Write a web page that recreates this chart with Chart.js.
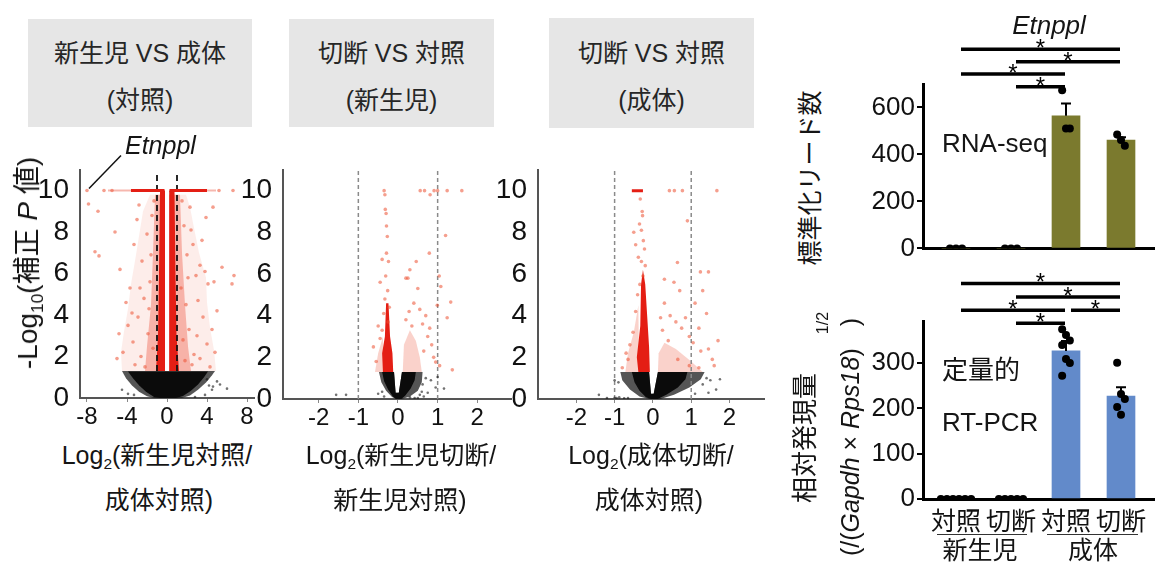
<!DOCTYPE html>
<html>
<head>
<meta charset="utf-8">
<script src="https://cdn.jsdelivr.net/npm/chart.js@4.4.0/dist/chart.umd.min.js"></script>
<style>
body{margin:0;width:1158px;height:564px;position:relative;background:#fff;overflow:hidden;
  font-family:'Liberation Sans','Noto Sans CJK JP',sans-serif;color:#151515}
canvas{position:absolute}
.box{position:absolute;background:#e6e6e6;color:#262626;font-size:25px;text-align:center}
.box div{position:absolute;left:0;right:0;line-height:30px}
.c{position:absolute;transform:translate(-50%,-50%);white-space:nowrap;line-height:1}
.l{position:absolute;transform:translateY(-50%);white-space:nowrap;line-height:1}
.r{position:absolute;transform:translate(-50%,-50%) rotate(-90deg);white-space:nowrap;line-height:1}
.sub{font-size:0.62em;position:relative;top:0.35em}
.rule{position:absolute;height:0;border-top:1.5px solid #333}
</style>
</head>
<body>

<div class="box" style="left:28px;top:19px;width:224px;height:108px"><div style="top:19px">新生児 VS 成体</div><div style="top:66px">(対照)</div></div>
<div class="box" style="left:289px;top:19px;width:205px;height:108px"><div style="top:19px">切断 VS 対照</div><div style="top:66px">(新生児)</div></div>
<div class="box" style="left:549px;top:18px;width:205px;height:110px"><div style="top:20px">切断 VS 対照</div><div style="top:67px">(成体)</div></div>

<canvas id="va" width="228" height="288" style="left:30px;top:150px"></canvas>
<canvas id="vb" width="282" height="289" style="left:233px;top:150px"></canvas>
<canvas id="vc" width="280" height="289" style="left:488px;top:150px"></canvas>
<canvas id="seq" width="318" height="266" style="left:840px;top:0px"></canvas>
<canvas id="pcr" width="318" height="277" style="left:840px;top:262px"></canvas>

<div class="l" style="left:125px;top:145px;font-size:25px;font-style:italic">Etnppl</div>
<div class="r" style="left:28px;top:263px;font-size:28px">-Log<span class="sub">10</span>(補正 <i>P</i> 値)</div>

<div class="c" style="left:157px;top:455px;font-size:25px">Log<span class="sub">2</span>(新生児対照/</div>
<div class="c" style="left:159px;top:500px;font-size:25px">成体対照)</div>
<div class="c" style="left:401px;top:455px;font-size:25px">Log<span class="sub">2</span>(新生児切断/</div>
<div class="c" style="left:400px;top:500px;font-size:25px">新生児対照)</div>
<div class="c" style="left:651px;top:455px;font-size:25px">Log<span class="sub">2</span>(成体切断/</div>
<div class="c" style="left:649px;top:500px;font-size:25px">成体対照)</div>

<div class="c" style="left:1049px;top:25px;font-size:26px;font-style:italic">Etnppl</div>
<div class="r" style="left:810px;top:178px;font-size:25px">標準化リード数</div>
<div class="l" style="left:942px;top:143px;font-size:26px">RNA-seq</div>

<div class="r" style="left:805px;top:438px;font-size:26px">相対発現量</div>
<div class="r" style="left:850px;top:437px;font-size:25px">(/(<i>Gapdh</i> × <i>Rps18</i>)<span style="margin-left:22px">)</span></div>
<div class="r" style="left:823px;top:323px;font-size:16px">1/2</div>
<div class="l" style="left:942px;top:370px;font-size:26px">定量的</div>
<div class="l" style="left:942px;top:422px;font-size:26px">RT-PCR</div>

<div class="rule" style="left:937px;top:534px;width:90px"></div>
<div class="rule" style="left:1047px;top:534px;width:91px"></div>
<div class="c" style="left:980px;top:550px;font-size:25px">新生児</div>
<div class="c" style="left:1093px;top:550px;font-size:25px">成体</div>

<script>
// ---- volcano 1: 新生児 vs 成体 (対照) ----
var aRedDots = [[-8,10],[-7.85,9.35],[-6.9,9.0],[-7.2,7.05],[-6.8,6.85],[-6.3,10],[-5.5,10],[-5.2,8.0],[-4.7,6.2],
  [-5.0,1.9],[-4.4,2.2],[-4.8,3.1],[-3.9,3.5],[-3.7,5.3],[-3.3,7.4],[-3.0,8.6],[-2.8,9.3],[-2.5,6.6],[-2.3,4.8],
  [-2.0,7.9],[-1.9,3.1],[-1.7,5.6],[-1.5,8.8],[-1.4,2.4],[-2.6,2.0],[-3.2,1.6],[-3.5,4.1],[-2.9,3.9],[-2.2,1.5],
  [-1.6,6.9],[-1.3,9.5],[-3.4,2.7],[-2.7,5.3],[-4.1,4.6],[-1.8,4.3],[1.5,9.5],[1.7,8.3],[2.0,6.9],[2.3,9.2],
  [2.6,7.4],[2.9,5.9],[3.3,6.4],[3.8,6.1],[4.1,5.5],[4.7,5.6],[4.5,3.3],[4.0,2.6],[3.6,3.9],[3.1,4.7],[2.7,2.1],
  [2.2,3.3],[1.9,4.5],[1.6,2.8],[1.4,5.3],[2.5,1.6],[3.3,1.9],[4.3,1.5],[3.9,8.7],[4.6,9.2],[5.5,6.3],[6.5,5.5],
  [6.7,5.9],[5.2,10],[6.6,10],[5.0,4.2],[2.4,8.1],[3.0,3.0],[1.8,1.8],[4.8,2.2],[2.1,5.8],[3.5,7.6]];
var aBlackDots = [[4.2,0.6],[4.5,0.4],[4.6,0.55],[6.0,0.45],[-4.5,0.4],[3.8,0.15],[-3.9,0.2],[5.0,0.8],[2.8,0.05],
  [-3.3,0.15],[4.0,0.9],[5.3,0.65]];
var aCloudL = [[-0.2,1.3],[-4.5,1.3],[-4.6,2.2],[-4.3,3.2],[-3.9,4.3],[-3.6,5.5],[-3.2,6.6],[-2.8,7.8],[-2.4,9.0],[-1.7,9.8],[-0.2,9.8]];
var aCloudR = [[0.22,1.3],[4.9,1.3],[4.7,2.3],[4.3,3.4],[4.0,4.6],[3.9,5.8],[3.2,7.0],[2.7,8.2],[2.3,9.2],[1.9,9.8],[0.22,9.8]];
var aBandL = [[-0.2,1.3],[-2.2,1.3],[-2.0,2.5],[-1.6,4.5],[-1.4,7],[-1.2,9.8],[-0.2,9.8]];
var aBandR = [[0.22,1.3],[2.4,1.3],[2.1,2.5],[1.8,4.5],[1.5,7],[1.3,9.8],[0.22,9.8]];
var aCoreL = [[-0.2,1.3],[-1.1,1.3],[-0.9,3],[-0.8,6],[-0.7,10],[-0.2,10]];
var aCoreR = [[0.22,1.3],[1.2,1.3],[0.95,3],[0.85,6],[0.75,10],[0.22,10]];
var aBlackOuter = [[-4.5,1.3],[-4.1,0.95],[-3.5,0.6],[-2.8,0.3],[-2.0,0.08],[-1.3,0],[1.5,0],[2.3,0.12],[3.1,0.4],[3.9,0.75],[4.5,1.1],[4.8,1.3]];
var aBlackCore = [[-3.9,1.28],[-3.4,0.95],[-2.8,0.62],[-2.1,0.3],[-1.3,0.05],[-0.7,0],[0.9,0],[1.6,0.1],[2.4,0.35],[3.1,0.65],[3.7,1.0],[4.1,1.28]];
var aRowDense = [[-3.6,-0.25],[0.25,4.0]];
var aRowFaint = [[-5.9,-3.6],[4.0,4.9]];

// ---- volcano 2: 切断 vs 対照 (新生児) ----
var bRedDots = [[-0.35,10],[-0.33,9.8],[-0.32,9.1],[-0.3,8.9],[-0.29,8.3],[-0.27,7.8],[-0.29,7.0],[-0.4,6.7],
  [-0.24,6.6],[-0.31,5.9],[-0.45,5.6],[-0.5,3.5],[-0.62,2.5],[-0.45,2.9],[-0.55,1.8],[0.56,10],[0.67,10],[0.91,10],
  [1.0,10],[0.81,9.8],[1.24,10],[1.61,10],[0.79,7.0],[1.2,7.85],[0.46,6.6],[0.3,6.2],[0.2,5.8],[0.25,5.8],[0.5,5.3],
  [1.04,5.9],[1.08,5.4],[0.99,4.5],[1.33,4.65],[1.24,3.9],[0.95,1.77],[1.37,1.4],[0.7,4.0],[0.62,3.6],[0.75,3.0],
  [0.85,2.6],[0.4,4.6],[0.28,4.2],[0.9,2.0],[1.05,1.6],[0.35,3.5],[0.65,2.3],[0.2,3.8],[0.55,4.3],[0.8,3.4],
  [-0.26,5.2],[-0.33,4.8],[-0.22,4.4],[-0.36,4.1],[-0.25,3.7],[-0.4,3.3]];
var bBlackDots = [[-1.56,0.2],[-1.31,0.2],[-0.4,0.35],[-0.35,0.12],[-0.5,0.25],[0.3,0.08],[0.42,0.05],[0.55,0.2],
  [0.6,0.35],[0.65,0.12],[0.7,1.0],[0.83,0.9],[0.95,0.55],[1.0,1.05],[1.16,0.5],[0.62,0.7],[0.75,0.3],[0.5,0.05]];
var bBandL = [[-0.36,1.3],[-0.58,1.3],[-0.5,2.2],[-0.38,3.0]];
var bBandR = [[0.12,1.3],[0.6,1.3],[0.55,2.0],[0.45,2.8],[0.3,3.3],[0.15,2.6]];
var bCoreL = [[-0.38,1.3],[-0.12,1.3],[-0.14,2.2],[-0.2,3.0],[-0.24,4.6],[-0.3,4.6],[-0.33,3.0],[-0.4,2.2]];
var bBlackOuter = [[-0.48,1.3],[-0.42,0.8],[-0.3,0.4],[-0.15,0.1],[-0.05,0],[0.1,0],[0.3,0.12],[0.5,0.4],[0.6,0.8],
  [0.62,1.3],[0.1,1.3],[0.02,0.3],[-0.06,0.3],[-0.1,1.3]];
var bBlackCore = [[-0.4,1.3],[-0.35,0.85],[-0.25,0.45],[-0.13,0.12],[-0.05,0],[0.08,0],[0.18,0.15],[0.32,0.5],
  [0.42,0.9],[0.45,1.3],[0.1,1.3],[0.02,0.3],[-0.06,0.3],[-0.1,1.3]];

// ---- volcano 3: 切断 vs 対照 (成体) ----
var cRedDots = [[0.43,10],[0.56,10],[0.77,10],[1.67,10],[0.9,8.55],[1.24,6.1],[0.64,6.55],[0.3,5.75],[0.55,5.6],
  [-0.5,8.0],[-0.45,7.4],[-0.4,5.0],[-0.45,4.2],[-0.52,3.2],[-0.6,2.6],[-0.65,1.9],[0.3,4.6],[0.45,4.0],[0.6,3.7],
  [0.75,3.4],[0.85,3.9],[0.95,3.0],[1.05,2.7],[1.25,2.3],[1.45,2.4],[1.55,1.9],[1.6,1.6],[1.7,2.8],[1.4,4.1],
  [1.1,4.6],[0.7,5.2],[1.3,5.2],[0.25,3.3],[0.4,2.8],[0.2,3.9],[0.95,1.6],[1.2,1.5],[0.65,1.9],[-0.33,9.6],
  [-0.28,9.0],[-0.35,8.4],[-0.25,7.6],[-0.38,6.8],[-0.2,6.4],[1.45,6.1],[1.2,3.4],[-0.8,1.5],[-0.7,2.2],
  [-0.27,8.8],[-0.3,8.1],[-0.22,7.2],[-0.3,6.6],[-0.26,5.9],[-0.34,5.5]];
var cBlackDots = [[-1.41,0.2],[-1.0,0.06],[-0.95,0.05],[-0.88,0.08],[-0.75,0.03],[-0.65,0.05],[-1.2,0.05],[1.4,1.0],
  [1.5,0.9],[1.65,0.45],[1.75,0.95],[1.3,0.7],[-0.9,0.8],[-1.0,0.9],[1.45,0.3],[1.1,0.25]];
var cBandL = [[-0.36,1.3],[-0.72,1.3],[-0.65,2.2],[-0.5,3.2],[-0.38,4.5]];
var cBandR = [[0.13,1.3],[1.3,1.3],[1.0,1.8],[0.6,2.4],[0.3,2.7],[0.15,2.2]];
var cCoreL = [[-0.38,1.3],[-0.08,1.3],[-0.1,2.5],[-0.15,4.0],[-0.2,5.5],[-0.26,6.2],[-0.31,5.5],[-0.33,3.5],[-0.42,2.0]];
var cBlackOuter = [[-0.85,1.3],[-0.8,0.9],[-0.6,0.45],[-0.35,0.12],[-0.1,0],[0.2,0],[0.55,0.2],[0.95,0.55],[1.25,0.95],
  [1.35,1.3],[0.13,1.3],[0.02,0.25],[-0.05,0.25],[-0.1,1.3]];
var cBlackCore = [[-0.55,1.3],[-0.48,0.8],[-0.35,0.4],[-0.18,0.08],[-0.05,0],[0.12,0],[0.35,0.2],[0.65,0.55],
  [0.85,0.95],[0.9,1.3],[0.13,1.3],[0.02,0.25],[-0.05,0.25],[-0.1,1.3]];
var cRowDense = [[-0.55,-0.26]];

// ---- Etnppl bars ----
var conditions = ['対照', '切断', '対照', '切断'];
var seqMeans = [0, 0, 565, 461];
var seqSem = [0, 0, 52, 12];
var seqDots = [[0, 0, 0], [0, 0, 0], [673, 510, 510], [485, 462, 437]];
var seqBrackets = [[0, 3, 848], [1, 3, 795], [0, 2, 743], [1, 2, 688]];
var seqTicks = [0, 200, 400, 600];
var pcrMeans = [0, 0, 327, 227];
var pcrSem = [0, 0, 22, 20];
var pcrDots = [[0, 0, 0, 0, 0, 0], [0, 0, 0, 0, 0], [375, 362, 350, 340, 309, 300, 272], [301, 232, 221, 203, 186]];
var pcrBrackets = [[0, 3, 476], [1, 3, 446], [0, 2, 417], [2, 3, 417], [1, 2, 388]];
var pcrTicks = [0, 100, 200, 300];

var FONT = "'Liberation Sans','Noto Sans CJK JP',sans-serif";
Chart.defaults.font.family = FONT;

function xy(p) { return {x: p[0], y: p[1]}; }

// filled density regions, drawn through the chart scales
var regions = {
    id: 'regions',
    beforeDatasetsDraw: function (chart, args, opts) {
        var ctx = chart.ctx, a = chart.chartArea, xs = chart.scales.x, ys = chart.scales.y;
        ctx.save();
        ctx.beginPath();
        ctx.rect(a.left, a.top, a.right - a.left, a.bottom - a.top + 1);
        ctx.clip();
        (opts.list || []).forEach(function (r) {
            ctx.beginPath();
            r.pts.forEach(function (p, i) {
                var px = xs.getPixelForValue(p[0]), py = ys.getPixelForValue(p[1]);
                if (i) ctx.lineTo(px, py); else ctx.moveTo(px, py);
            });
            ctx.closePath();
            ctx.fillStyle = r.color;
            ctx.fill();
        });
        ctx.restore();
    },
    afterDraw: function (chart, args, opts) {
        if (!opts.leader) return;
        var ctx = chart.ctx;
        var x = chart.scales.x.getPixelForValue(opts.leader[0]) + 2;
        var y = chart.scales.y.getPixelForValue(opts.leader[1]) - 2;
        ctx.save();
        ctx.strokeStyle = '#111';
        ctx.lineWidth = 1.5;
        ctx.beginPath();
        ctx.moveTo(x, y);
        ctx.lineTo(x + 32, y - 33);
        ctx.stroke();
        ctx.restore();
    }
};

function segs(list, y, color, w) {
    return list.map(function (s) {
        return {data: [{x: s[0], y: y}, {x: s[1], y: y}], showLine: true, borderColor: color,
            borderWidth: w, pointRadius: 0};
    });
}

function volcano(id, o) {
    var ds = [];
    ds = ds.concat(segs(o.faint || [], 10, 'rgba(236,95,75,0.45)', 2));
    ds.push({data: o.red.map(xy), pointRadius: 1.8, backgroundColor: 'rgba(236,80,50,0.55)', borderWidth: 0});
    ds.push({data: o.black.map(xy), pointRadius: 1.3, backgroundColor: 'rgba(20,20,20,0.6)', borderWidth: 0});
    ds = ds.concat(segs(o.dense || [], 10, 'rgb(228,30,20)', 3));
    [-1, 1].forEach(function (v) {
        ds.push({data: [{x: v, y: o.dash[0]}, {x: v, y: o.dash[1]}], showLine: true, pointRadius: 0,
            borderColor: o.dashColor, borderWidth: o.dashWidth, borderDash: o.dashPattern});
    });
    new Chart(document.getElementById(id), {
        type: 'scatter',
        data: {datasets: ds},
        options: {
            responsive: false,
            animation: false,
            events: [],
            layout: {padding: {top: 16, left: 0, right: 0, bottom: 0}},
            plugins: {legend: {display: false}, tooltip: {enabled: false},
                regions: {list: o.regions, leader: o.leader}},
            scales: {
                x: {
                    type: 'linear', min: o.xmin, max: o.xmax,
                    afterBuildTicks: function (s) { s.ticks = o.xticks.map(function (v) { return {value: v}; }); },
                    afterFit: function (s) { s.height = 40; },
                    border: {color: '#555', width: 2},
                    grid: {display: true, drawOnChartArea: false, drawTicks: true, tickLength: 4, color: '#888'},
                    ticks: {font: {size: 24}, color: '#111', padding: 1, autoSkip: false, maxRotation: 0}
                },
                y: {
                    min: 0, max: 11,
                    afterBuildTicks: function (s) { s.ticks = [0, 2, 4, 6, 8, 10].map(function (v) { return {value: v}; }); },
                    afterFit: function (s) { s.width = 50; },
                    border: {color: '#555', width: 2},
                    grid: {display: false},
                    ticks: {font: {size: 28}, color: '#111', padding: 3}
                }
            }
        },
        plugins: [regions]
    });
}

var CLOUD = 'rgba(242,125,105,0.14)', BAND = 'rgba(234,70,45,0.35)', LIGHT = 'rgba(238,95,70,0.28)';
var CORE = 'rgb(228,30,20)', BLK = '#0b0b0b', BLK2 = 'rgba(20,20,20,0.72)';

volcano('va', {
    xmin: -8.7, xmax: 8.7, xticks: [-8, -4, 0, 4, 8],
    red: aRedDots, black: aBlackDots, dense: aRowDense, faint: aRowFaint,
    dash: [1.3, 10.8], dashColor: '#111', dashWidth: 1.8, dashPattern: [6, 4],
    leader: aRedDots[0],
    regions: [{pts: aCloudL, color: CLOUD}, {pts: aCloudR, color: CLOUD}, {pts: aBandL, color: BAND},
        {pts: aBandR, color: BAND}, {pts: aCoreL, color: CORE}, {pts: aCoreR, color: CORE},
        {pts: aBlackOuter, color: BLK2}, {pts: aBlackCore, color: BLK}]
});
volcano('vb', {
    xmin: -2.9, xmax: 2.85, xticks: [-2, -1, 0, 1, 2],
    red: bRedDots, black: bBlackDots,
    dash: [0, 11], dashColor: '#8a8a8a', dashWidth: 1.5, dashPattern: [4, 3],
    regions: [{pts: bBandL, color: LIGHT}, {pts: bBandR, color: LIGHT}, {pts: bCoreL, color: CORE},
        {pts: bBlackOuter, color: BLK2}, {pts: bBlackCore, color: BLK}]
});
volcano('vc', {
    xmin: -3.0, xmax: 2.9, xticks: [-2, -1, 0, 1, 2],
    red: cRedDots, black: cBlackDots, dense: cRowDense,
    dash: [0, 11], dashColor: '#8a8a8a', dashWidth: 1.5, dashPattern: [4, 3],
    regions: [{pts: cBandL, color: LIGHT}, {pts: cBandR, color: LIGHT}, {pts: cCoreL, color: CORE},
        {pts: cBlackOuter, color: BLK2}, {pts: cBlackCore, color: BLK}]
});

// error bars (upper half) and significance brackets
var barExtras = {
    id: 'barExtras',
    afterDatasetsDraw: function (chart, args, o) {
        var ctx = chart.ctx, xs = chart.scales.x, ys = chart.scales.y;
        ctx.save();
        ctx.strokeStyle = '#000';
        ctx.lineWidth = 2;
        o.means.forEach(function (m, i) {
            if (!o.sems[i]) return;
            var x = xs.getPixelForValue(i), y0 = ys.getPixelForValue(m), y1 = ys.getPixelForValue(m + o.sems[i]);
            ctx.beginPath();
            ctx.moveTo(x, y0); ctx.lineTo(x, y1);
            ctx.moveTo(x - 5, y1); ctx.lineTo(x + 5, y1);
            ctx.stroke();
        });
        ctx.lineWidth = 3.5;
        ctx.fillStyle = '#000';
        ctx.font = '24px ' + FONT;
        ctx.textAlign = 'center';
        ctx.textBaseline = 'alphabetic';
        o.brackets.forEach(function (b) {
            var x1 = xs.getPixelForValue(b[0]) + 5, x2 = xs.getPixelForValue(b[1]) - 1, y = ys.getPixelForValue(b[2]);
            ctx.beginPath();
            ctx.moveTo(x1, y); ctx.lineTo(x2, y);
            ctx.stroke();
            ctx.fillText('*', (x1 + x2) / 2, y + 7);
        });
        ctx.restore();
    }
};

function dotPoints(dots) {
    var out = [];
    dots.forEach(function (vals, g) {
        var n = vals.length;
        vals.forEach(function (v, k) {
            var off = v === 0 ? (k - (n - 1) / 2) * 0.11 : ((k % 3) - 1) * 0.07;
            out.push({x: g + off, y: v});
        });
    });
    return out;
}

function barChart(id, o) {
    new Chart(document.getElementById(id), {
        type: 'bar',
        data: {datasets: [
            {type: 'bar', data: o.means.map(function (m, i) { return {x: i, y: m}; }),
                backgroundColor: o.color, barThickness: 28, order: 2},
            {type: 'scatter', data: dotPoints(o.dots), pointRadius: 4, backgroundColor: '#000', borderWidth: 0, order: 1}
        ]},
        options: {
            responsive: false,
            animation: false,
            events: [],
            layout: {padding: {top: o.padTop, left: 0, right: 0, bottom: 0}},
            plugins: {legend: {display: false}, tooltip: {enabled: false},
                barExtras: {means: o.means, sems: o.sems, brackets: o.brackets}},
            scales: {
                x: {
                    type: 'linear', offset: false, min: -0.6, max: 3.6,
                    afterBuildTicks: function (s) { s.ticks = [0, 1, 2, 3].map(function (v) { return {value: v}; }); },
                    afterFit: function (s) { s.height = o.xh; },
                    border: {color: '#000', width: 3},
                    grid: {display: false},
                    ticks: {display: o.showX, callback: function (v, i) { return conditions[i]; },
                        font: {size: 25, lineHeight: 1}, color: '#111', padding: 4, autoSkip: false, maxRotation: 0}
                },
                y: {
                    min: 0, max: o.max,
                    afterBuildTicks: function (s) { s.ticks = o.ticks.map(function (v) { return {value: v}; }); },
                    afterFit: function (s) { s.width = 83; },
                    border: {color: '#000', width: 3},
                    grid: {display: true, drawOnChartArea: false, drawTicks: true, tickLength: 6, color: '#000', lineWidth: 2},
                    ticks: {font: {size: 26}, color: '#111', padding: 2}
                }
            }
        },
        plugins: [barExtras]
    });
}

barChart('seq', {means: seqMeans, sems: seqSem, dots: seqDots, brackets: seqBrackets, ticks: seqTicks,
    max: 700, color: '#7b7a2e', padTop: 84, xh: 6, showX: false});
barChart('pcr', {means: pcrMeans, sems: pcrSem, dots: pcrDots, brackets: pcrBrackets, ticks: pcrTicks,
    max: 393, color: '#628aca', padTop: 59, xh: 40, showX: true});
</script>
</body>
</html>
